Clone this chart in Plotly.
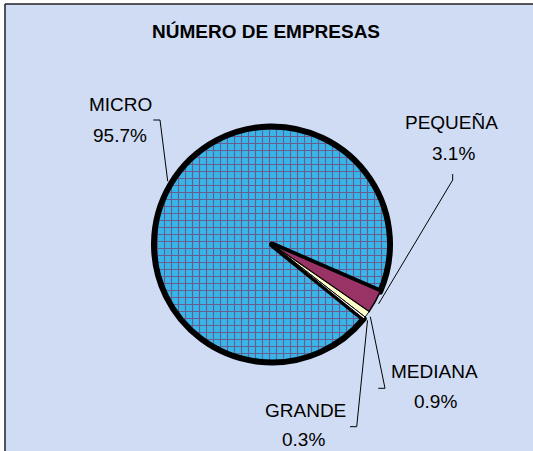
import math
import plotly.graph_objects as go

# ---- data ----
categories = ["MICRO", "PEQUEÑA", "MEDIANA", "GRANDE"]
shares = [95.7, 3.1, 0.9, 0.3]
title_text = "NÚMERO DE EMPRESAS"

# ---- styles ----
W, H = 533, 451
slice_colors = ["#38b6ea", "#993366", "#ffffcc", "#ffffff"]
line_widths = [6, 1.5, 1, 1]
bg = "#d0dcf4"
font_family = "Liberation Sans, Arial, sans-serif"
rotation = 129          # start angle of first slice (deg, clockwise from 12 o'clock)
cx, cy, r = 272, 244.5, 118   # pie centre / radius in pixels

def px(x):
    return x / W

def py(y):
    return 1 - y / H

fig = go.Figure()
fig.add_trace(go.Pie(
    labels=categories,
    values=shares,
    sort=False,
    direction="clockwise",
    rotation=rotation,
    textinfo="none",
    hoverinfo="skip",
    showlegend=False,
    marker=dict(
        colors=slice_colors,
        line=dict(color="black", width=line_widths),
        pattern=dict(shape=["+", "", "", ""], fgcolor="#6a5c8e",
                     bgcolor=slice_colors, fillmode="replace",
                     size=7, solidity=0.3),
    ),
    domain=dict(x=[px(cx - r), px(cx + r)], y=[py(cy + r), py(cy - r)]),
))

# label placement (pixels): name centre, percent centre, leader elbow, leader end
label_layout = {
    "MICRO":   dict(name=(120, 105), pct=(120, 135), elbow=(160, 120), end=(153.3, 120)),
    "PEQUEÑA": dict(name=(451.7, 122.5), pct=(453, 153), elbow=(452.7, 180), end=(452.7, 174)),
    "MEDIANA": dict(name=(434, 371), pct=(435.5, 401), elbow=(385, 388.3), end=(378.3, 388.3)),
    "GRANDE":  dict(name=(305, 410), pct=(303.5, 439), elbow=(356.7, 426.7), end=(350, 426.7)),
}

total = sum(shares)
start = rotation
annotations = [dict(text="<b>" + title_text + "</b>", x=px(266), y=py(31.5),
                    xref="paper", yref="paper", showarrow=False,
                    xanchor="center", yanchor="middle",
                    font=dict(size=19, color="black", family=font_family))]
frame = "#222222"
shapes = [
    # white margin strips outside the chart frame (left and top)
    dict(type="line", xref="paper", yref="paper", x0=px(2.2), x1=px(2.2), y0=0, y1=1,
         line=dict(color="white", width=4.5)),
    dict(type="line", xref="paper", yref="paper", x0=0, x1=1, y0=py(1.8), y1=py(1.8),
         line=dict(color="white", width=3.6)),
    # chart frame
    dict(type="line", xref="paper", yref="paper", x0=px(5), x1=px(5), y0=0, y1=py(4),
         line=dict(color=frame, width=1.5)),
    dict(type="line", xref="paper", yref="paper", x0=px(5), x1=1, y0=py(4), y1=py(4),
         line=dict(color=frame, width=1.5)),
]

for cat, v in zip(categories, shares):
    span = 360 * v / total
    mid = math.radians(start + span / 2)
    start += span
    ex = cx + (r + 4) * math.sin(mid)
    ey = cy - (r + 4) * math.cos(mid)
    L = label_layout[cat]
    shapes.append(dict(type="path", xref="paper", yref="paper",
                       path=f"M {px(ex)} {py(ey)} L {px(L['elbow'][0])} {py(L['elbow'][1])} "
                            f"L {px(L['end'][0])} {py(L['end'][1])}",
                       line=dict(color="black", width=1)))
    for txt, pos in ((cat, L["name"]), (f"{v:.1f}%", L["pct"])):
        annotations.append(dict(text=txt, x=px(pos[0]), y=py(pos[1]),
                                xref="paper", yref="paper", showarrow=False,
                                xanchor="center", yanchor="middle",
                                font=dict(size=19, color="black", family=font_family)))

fig.update_layout(
    width=W, height=H,
    margin=dict(l=0, r=0, t=0, b=0),
    paper_bgcolor=bg,
    annotations=annotations,
    shapes=shapes,
)

fig.write_html("out.html", config={"displayModeBar": False},
               post_script=("document.documentElement.style.overflow='hidden';"
                            "document.body.style.margin='0';"))
